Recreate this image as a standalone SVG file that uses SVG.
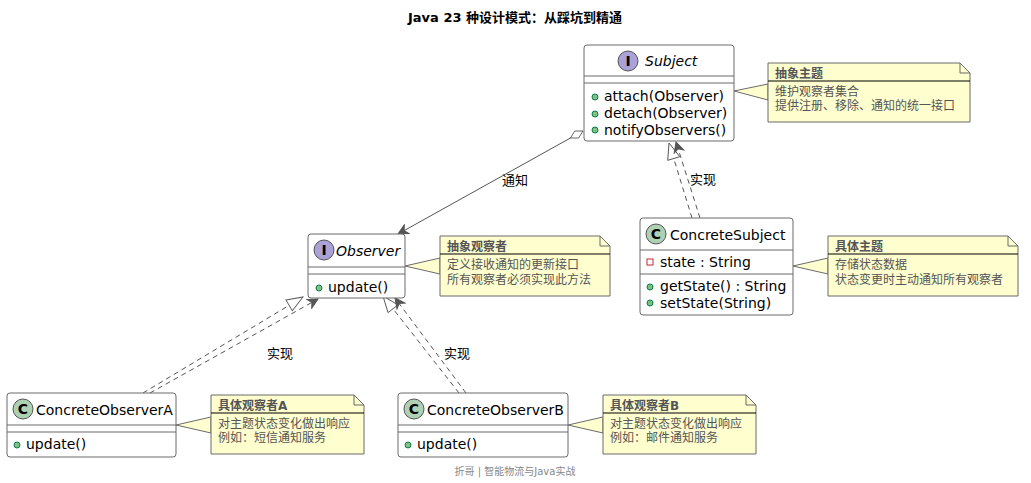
<svg xmlns="http://www.w3.org/2000/svg" width="1031" height="483" viewBox="0 0 1031 483">
<style>
text{font-family:"DejaVu Sans","Noto Sans CJK SC",sans-serif;}
.box{fill:#fff;stroke:#6b6b6b;stroke-width:1}
.sep{stroke:#6b6b6b;stroke-width:1}
.cls{font-size:14px;fill:#000}
.mem{font-size:14px;fill:#000}
.note{fill:#fefece;stroke:#6b6b6b;stroke-width:1}
.nt{font-size:12px;fill:#555}
.ntb{font-size:12px;fill:#555;font-weight:bold}
.pub{fill:#84be84;stroke:#038048;stroke-width:1}
.dash{stroke:#555;stroke-width:1;stroke-dasharray:5,4;fill:none}
.lbl{font-size:13px;fill:#000}
</style>
<defs>
<marker id="tri" viewBox="0 0 20 20" refX="19" refY="10" markerWidth="18" markerHeight="18" orient="auto" markerUnits="userSpaceOnUse"><path d="M1,3 L19,10 L1,17 Z" fill="#fff" stroke="#555"/></marker>
<marker id="arr" viewBox="0 0 12 12" refX="11" refY="6" markerWidth="12" markerHeight="12" orient="auto" markerUnits="userSpaceOnUse"><path d="M1,1 L11,6 L1,11 L4,6 Z" fill="#555" stroke="#555"/></marker>
<marker id="dia" viewBox="0 0 20 12" refX="1" refY="6" markerWidth="16" markerHeight="10" orient="auto" markerUnits="userSpaceOnUse"><path d="M1,6 L10,1 L19,6 L10,11 Z" fill="#fff" stroke="#555"/></marker>
</defs>
<text x="515" y="22" text-anchor="middle" font-size="13" font-weight="bold">Java 23 种设计模式：从踩坑到精通</text>

<g id="connectors">
<line x1="583" y1="131" x2="398" y2="234" stroke="#555" marker-start="url(#dia)" marker-end="url(#arr)"/>
<text class="lbl" x="515" y="185" text-anchor="middle">通知</text>
<line class="dash" x1="692" y1="218" x2="669" y2="143" marker-end="url(#tri)"/>
<line class="dash" x1="700" y1="218" x2="676" y2="142" marker-end="url(#arr)"/>
<text class="lbl" x="703" y="184" text-anchor="middle">实现</text>
<line class="dash" x1="143" y1="393" x2="303" y2="297" marker-end="url(#tri)"/>
<line class="dash" x1="150" y1="393" x2="318" y2="299" marker-end="url(#arr)"/>
<text class="lbl" x="280" y="358" text-anchor="middle">实现</text>
<line class="dash" x1="459" y1="393" x2="383" y2="296" marker-end="url(#tri)"/>
<line class="dash" x1="466" y1="393" x2="395" y2="298" marker-end="url(#arr)"/>
<text class="lbl" x="457" y="358" text-anchor="middle">实现</text>
<path d="M734,91 L768,84 L768,100 Z" fill="#fefece" stroke="#6b6b6b"/>
<path d="M793,266 L828,258 L828,274 Z" fill="#fefece" stroke="#6b6b6b"/>
<path d="M405,266 L440,258 L440,274 Z" fill="#fefece" stroke="#6b6b6b"/>
<path d="M176,425 L211,417 L211,433 Z" fill="#fefece" stroke="#6b6b6b"/>
<path d="M568,425 L603,417 L603,433 Z" fill="#fefece" stroke="#6b6b6b"/>
</g>

<g id="Subject">
<rect class="box" x="584" y="45" width="150" height="96" rx="3"/>
<circle cx="628" cy="61" r="10" fill="#a9a1d8" stroke="#555"/>
<text x="628" y="66" text-anchor="middle" font-size="14" font-weight="bold">I</text>
<text class="cls" x="645" y="66" font-style="italic">Subject</text>
<line class="sep" x1="584" y1="76" x2="734" y2="76"/>
<line class="sep" x1="584" y1="83" x2="734" y2="83"/>
<circle class="pub" cx="595" cy="97" r="3"/><text class="mem" x="604" y="101">attach(Observer)</text>
<circle class="pub" cx="595" cy="114" r="3"/><text class="mem" x="604" y="118">detach(Observer)</text>
<circle class="pub" cx="595" cy="130" r="3"/><text class="mem" x="604" y="135">notifyObservers()</text>
</g>
<g id="noteSubject">
<path class="note" d="M768,63 H960 L970,73 V122 H768 Z"/>
<path d="M960,63 V73 H970" fill="none" stroke="#6b6b6b"/>
<text class="ntb" x="775" y="78">抽象主题</text>
<line x1="768" y1="81" x2="970" y2="81" stroke="#000"/>
<text class="nt" x="775" y="96">维护观察者集合</text>
<text class="nt" x="775" y="110">提供注册、移除、通知的统一接口</text>
</g>

<g id="ConcreteSubject">
<rect class="box" x="640" y="218" width="153" height="97" rx="3"/>
<circle cx="656" cy="234" r="10" fill="#add1b2" stroke="#555"/>
<text x="656" y="239" text-anchor="middle" font-size="14" font-weight="bold">C</text>
<text class="cls" x="670" y="240">ConcreteSubject</text>
<line class="sep" x1="640" y1="250" x2="793" y2="250"/>
<rect x="647" y="259" width="6" height="6" fill="none" stroke="#c82930"/>
<text class="mem" x="660" y="267">state : String</text>
<line class="sep" x1="640" y1="274" x2="793" y2="274"/>
<circle class="pub" cx="650" cy="287" r="3"/><text class="mem" x="660" y="291">getState() : String</text>
<circle class="pub" cx="650" cy="303" r="3"/><text class="mem" x="660" y="308">setState(String)</text>
</g>
<g id="noteConcreteSubject">
<path class="note" d="M828,236 H1008 L1018,246 V296 H828 Z"/>
<path d="M1008,236 V246 H1018" fill="none" stroke="#6b6b6b"/>
<text class="ntb" x="835" y="251">具体主题</text>
<line x1="828" y1="254" x2="1018" y2="254" stroke="#000"/>
<text class="nt" x="835" y="269">存储状态数据</text>
<text class="nt" x="835" y="284">状态变更时主动通知所有观察者</text>
</g>

<g id="Observer">
<rect class="box" x="308" y="234" width="97" height="64" rx="3"/>
<circle cx="324" cy="250" r="10" fill="#a9a1d8" stroke="#555"/>
<text x="324" y="255" text-anchor="middle" font-size="14" font-weight="bold">I</text>
<text class="cls" x="336" y="256" font-style="italic">Observer</text>
<line class="sep" x1="308" y1="267" x2="405" y2="267"/>
<line class="sep" x1="308" y1="274" x2="405" y2="274"/>
<circle class="pub" cx="319" cy="288" r="3"/><text class="mem" x="328" y="292">update()</text>
</g>
<g id="noteObserver">
<path class="note" d="M440,236 H600 L610,246 V296 H440 Z"/>
<path d="M600,236 V246 H610" fill="none" stroke="#6b6b6b"/>
<text class="ntb" x="447" y="251">抽象观察者</text>
<line x1="440" y1="254" x2="610" y2="254" stroke="#000"/>
<text class="nt" x="447" y="269">定义接收通知的更新接口</text>
<text class="nt" x="447" y="284">所有观察者必须实现此方法</text>
</g>

<g id="ConcreteObserverA">
<rect class="box" x="7" y="393" width="169" height="64" rx="3"/>
<circle cx="23" cy="409" r="10" fill="#add1b2" stroke="#555"/>
<text x="23" y="414" text-anchor="middle" font-size="14" font-weight="bold">C</text>
<text class="cls" x="36" y="415">ConcreteObserverA</text>
<line class="sep" x1="7" y1="425" x2="176" y2="425"/>
<line class="sep" x1="7" y1="432" x2="176" y2="432"/>
<circle class="pub" cx="17" cy="445" r="3"/><text class="mem" x="26" y="449">update()</text>
</g>
<g id="noteA">
<path class="note" d="M211,395 H354 L364,405 V454 H211 Z"/>
<path d="M354,395 V405 H364" fill="none" stroke="#6b6b6b"/>
<text class="ntb" x="218" y="410">具体观察者A</text>
<line x1="211" y1="413" x2="364" y2="413" stroke="#000"/>
<text class="nt" x="218" y="428">对主题状态变化做出响应</text>
<text class="nt" x="218" y="442">例如：短信通知服务</text>
</g>

<g id="ConcreteObserverB">
<rect class="box" x="398" y="393" width="170" height="64" rx="3"/>
<circle cx="414" cy="409" r="10" fill="#add1b2" stroke="#555"/>
<text x="414" y="414" text-anchor="middle" font-size="14" font-weight="bold">C</text>
<text class="cls" x="427" y="415">ConcreteObserverB</text>
<line class="sep" x1="398" y1="425" x2="568" y2="425"/>
<line class="sep" x1="398" y1="432" x2="568" y2="432"/>
<circle class="pub" cx="408" cy="445" r="3"/><text class="mem" x="417" y="449">update()</text>
</g>
<g id="noteB">
<path class="note" d="M603,395 H746 L756,405 V454 H603 Z"/>
<path d="M746,395 V405 H756" fill="none" stroke="#6b6b6b"/>
<text class="ntb" x="610" y="410">具体观察者B</text>
<line x1="603" y1="413" x2="756" y2="413" stroke="#000"/>
<text class="nt" x="610" y="428">对主题状态变化做出响应</text>
<text class="nt" x="610" y="442">例如：邮件通知服务</text>
</g>

<text x="515" y="475" text-anchor="middle" font-size="10" fill="#888">折哥 | 智能物流与Java实战</text>
</svg>
